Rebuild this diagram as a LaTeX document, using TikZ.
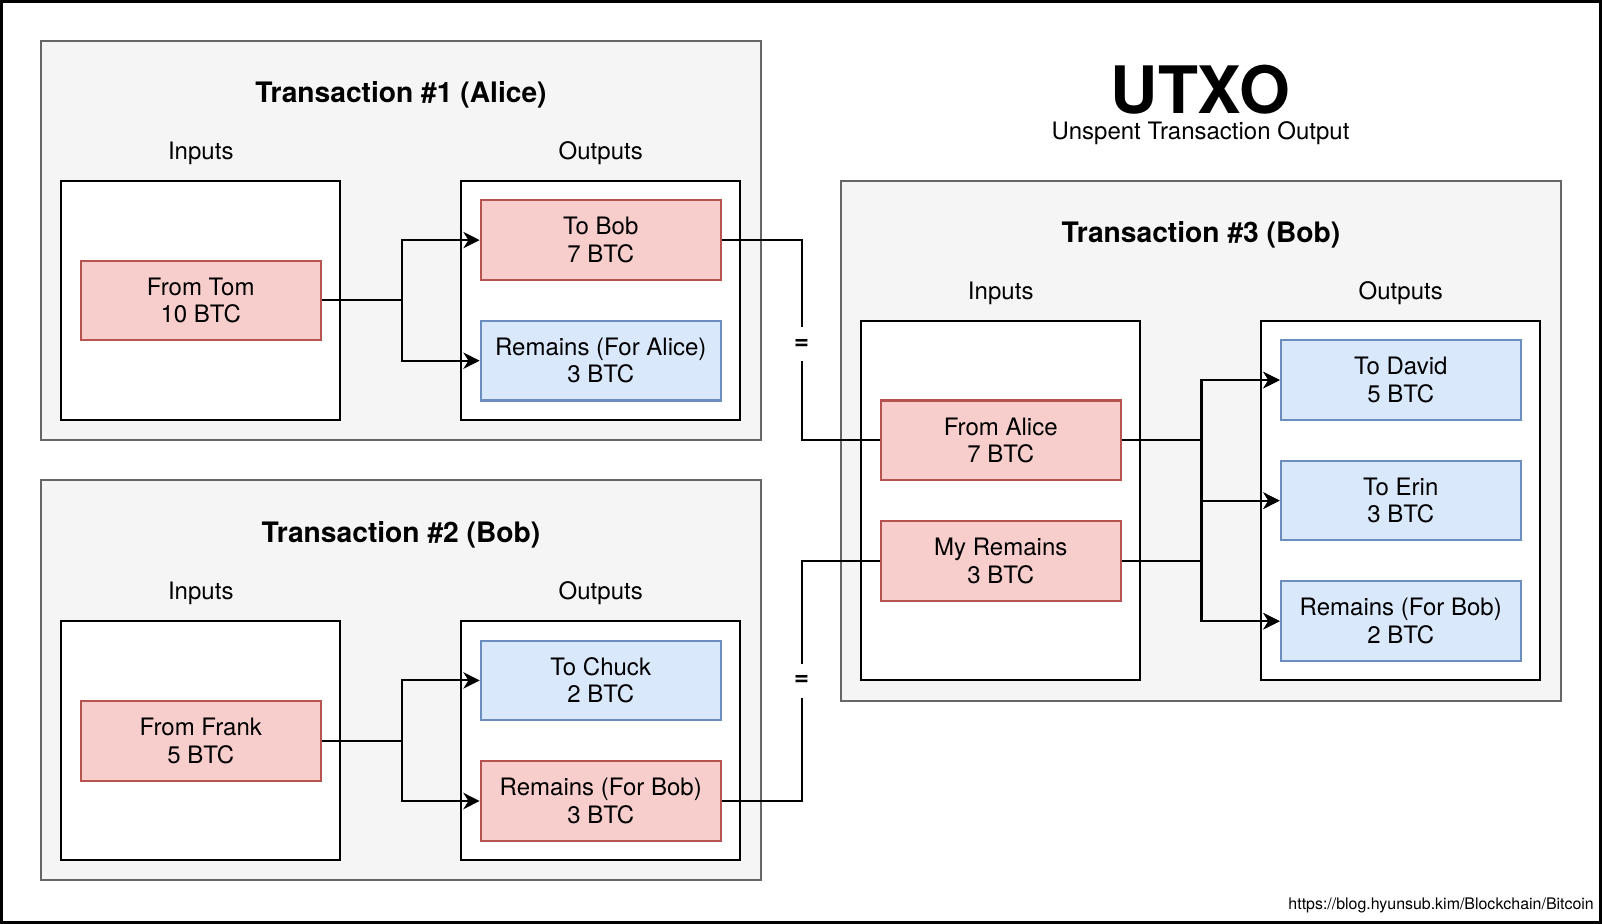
\documentclass[tikz,border=0pt]{standalone}
\usepackage{fontspec}
\setmainfont{TeX Gyre Heros}
\usepackage{xcolor}
\usetikzlibrary{arrows.meta,positioning}
\definecolor{txfill}{HTML}{F5F5F5}
\definecolor{txline}{HTML}{666666}
\definecolor{spentfill}{HTML}{F8CECC}
\definecolor{spentline}{HTML}{B85450}
\definecolor{utxofill}{HTML}{DAE8FC}
\definecolor{utxoline}{HTML}{6C8EBF}

\begin{document}
\begin{tikzpicture}[x=0.5pt, y=-0.5pt, line width=1pt, node distance=59pt,
font=\fontsize{11.75}{13.5}\selectfont,
tx/.style = {draw=txline, fill=txfill, rectangle, minimum width=352.5pt, minimum height=195.5pt},
pane/.style = {draw, fill=white, rectangle, minimum width=136.5pt, minimum height=117pt},
spent/.style = {draw=spentline, fill=spentfill, rectangle, align=center, minimum width=117.5pt, minimum height=39pt},
utxo/.style = {draw=utxoline, fill=utxofill, rectangle, align=center, minimum width=117.5pt, minimum height=39pt},
title/.style = {font=\bfseries\fontsize{13.8}{16}\selectfont},
arr/.style = {-{Stealth[length=8pt, width=8pt, inset=2.5pt]}},
eq/.style = {fill=white, inner sep=0pt, minimum height=16.5pt, font=\bfseries\fontsize{12.5}{14}\selectfont}]

    \useasboundingbox (0,0) rectangle (1568,904);
    \draw[line width=1.25pt] (1.25,1.25) rectangle (1566.75,902.75);

    \node[tx] (t1) at (392.5,235.5) {};
    \node[title] (t1title) at (392.5,92.5) {Transaction \#1 (Alice)};
    \node (t1in) at (196.5,150) {Inputs};
    \node (t1out) at (588,150) {Outputs};
    \node[pane] (p1in) at (196.5,294) {};
    \node[pane] (p1out) at (588,294) {};

    \node[spent] (tom) at (p1in.center) {From Tom\\10 BTC};
    \node[spent] (tobob) at (588,235) {To Bob\\7 BTC};
    \node[utxo, below of=tobob] (alicerem) {Remains (For Alice)\\3 BTC};

    \node[tx] (t2) at (392.5,665.5) {};
    \node[title] (t2title) at (392.5,523.5) {Transaction \#2 (Bob)};
    \node (t2in) at (196.5,581) {Inputs};
    \node (t2out) at (588,581) {Outputs};
    \node[pane] (p2in) at (196.5,724.5) {};
    \node[pane] (p2out) at (588,724.5) {};

    \node[spent] (frank) at (196.5,725) {From Frank\\5 BTC};
    \node[utxo] (chuck) at (588,666) {To Chuck\\2 BTC};
    \node[spent, below of=chuck] (bobrest) {Remains (For Bob)\\3 BTC};

    \node[tx, minimum height=254.5pt] (t3) at (1175.5,431.5) {};
    \node[title] (t3title) at (1175.5,229.5) {Transaction \#3 (Bob)};
    \node (t3in) at (979.5,287) {Inputs};
    \node (t3out) at (1371,287) {Outputs};
    \node[pane, minimum height=176pt] (p3in) at (979.5,490) {};
    \node[pane, minimum height=176pt] (p3out) at (1371,490) {};

    \node[spent] (alice) at (979.5,431) {From Alice\\7 BTC};
    \node[spent, below of=alice] (myrem) {My Remains\\3 BTC};
    \node[utxo] (erin) at (1371,490) {To Erin\\3 BTC};
    \node[utxo, above of=erin] (david) {To David\\5 BTC};
    \node[utxo, below of=erin] (bobrem) {Remains (For Bob)\\2 BTC};

    \node[font=\bfseries\fontsize{32}{36}\selectfont, inner sep=0pt] (big) at (1175,88) {UTXO};
    \node[inner sep=0pt] (sub) at (1175,130) {Unspent Transaction Output};
    \node[font=\fontsize{7.8}{9}\selectfont, anchor=east, inner sep=0pt] (url) at (1561,886) {https://blog.hyunsub.kim/Blockchain/Bitcoin};

    \draw [arr] (tom.east) -- ++(78,0) |- (tobob);
    \draw [arr] (tom.east) -- ++(78,0) |- (alicerem);

    \draw [arr] (frank.east) -- ++(78,0) |- (chuck);
    \draw [arr] (frank.east) -- ++(78,0) |- (bobrest);

    \draw [arr] (alice.east) -- ++(78,0) |- (david);
    \draw [arr] (alice.east) -- ++(78,0) |- (erin);
    \draw [arr] (alice.east) -- ++(78,0) |- (bobrem);
    \draw [arr] (myrem.east) -- ++(78,0) |- (david);
    \draw [arr] (myrem.east) -- ++(78,0) |- (erin);
    \draw [arr] (myrem.east) -- ++(78,0) |- (bobrem);

    \draw (tobob.east) -- ++(78,0) |- (alice) node[eq, pos=0.26] {=};
    \draw (bobrest.east) -- ++(78,0) |- (myrem) node[eq, pos=0.25] {=};

\end{tikzpicture}
\end{document}
